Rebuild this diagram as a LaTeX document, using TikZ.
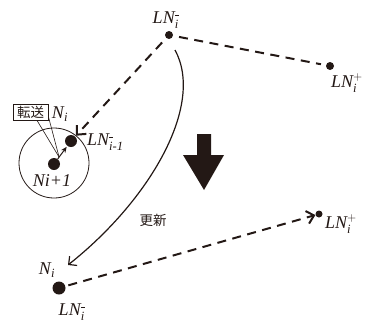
\documentclass[tikz,border=0pt]{standalone}
\usepackage{amsmath}
\usepackage{fontspec}
\setmainfont{Liberation Serif}
\newfontfamily\jpfont{Noto Sans CJK JP}
\usetikzlibrary{arrows.meta,calc}
\definecolor{ink}{HTML}{231815}
\newcommand\lnlab[2]{$\textit{LN}_{\textit{#1}}^{#2}$}
\newcommand\mns{\rule[0.5pt]{4pt}{1.6pt}}
\begin{document}
\begin{tikzpicture}[x=1pt,y=-1pt,color=ink,
  dotnode/.style={circle,fill=ink,draw=none,inner sep=0pt,minimum size=#1},
  lbl/.style={font=\fontsize{18}{20}\selectfont,inner sep=0pt,text=ink},
  jp/.style={font=\jpfont\fontsize{13.5}{14}\selectfont,text=ink},
  dashline/.style={draw=ink,line width=2pt,dash pattern=on 9pt off 6.5pt},
  dasharrow/.style={dashline,-{Straight Barb[length=7pt,width=13pt,line width=2pt]}},
]
\useasboundingbox (0,0) rectangle (366,324);
% dots
\node[dotnode=8pt] (A) at (169,35) {};
\node[dotnode=8pt] (B) at (330,66) {};
\node[dotnode=12pt] (C) at (71,141) {};
\node[dotnode=12pt] (D) at (54,164) {};
\node[dotnode=13pt] (E) at (59,288) {};
\node[dotnode=7pt] (F) at (319,214) {};
% ring
\node[circle,draw=ink,line width=0.8pt,minimum size=70pt,inner sep=0pt] (ring) at (54,163) {};
% transfer box
\node[draw=ink,line width=0.7pt,jp,minimum width=35pt,minimum height=16pt,inner sep=0pt] (tb) at (30.5,112) {転送};
% labels
\node[lbl] (lA) at (166,20) {\lnlab{i}{\mns}};
\node[lbl] (lB) at (347,83) {\lnlab{i}{+}};
\node[lbl,anchor=west] (lC) at (87,142) {\lnlab{i-1}{\mns}};
\node[lbl] (lN1) at (60,114) {$\textit{N}_{\textit{i}}$};
\node[lbl] (lD) at (52,181) {\textit{Ni+1}};
\node[lbl] (lE) at (47,270) {$\textit{N}_{\textit{i}}$};
\node[lbl] (lE2) at (72,312) {\lnlab{i}{\mns}};
\node[lbl] (lF) at (341,224) {\lnlab{i}{+}};
\node[jp] (upd) at (153,220) {更新};
% connectors
\draw[dashline,shorten <=6pt,shorten >=5pt] (A) -- (B);
\draw[dasharrow,shorten <=6pt,shorten >=1pt] (A) -- (C);
\draw[dasharrow,shorten <=3pt,shorten >=0pt] (E) -- (F);
\draw[draw=ink,line width=1pt,-{Stealth[length=6pt,width=5pt]},shorten >=1pt] (D) -- (C);
\coordinate (cv) at ($(D)!0.3!(C)$);
\draw[draw=ink,line width=0.6pt] ($(tb.south)+(6.5,0)$) -- (cv);
\draw[draw=ink,line width=0.6pt] ($(tb.south east)+(0,-4)$) -- (cv);
\coordinate (cs) at (175,50);
\coordinate (ce) at (68,265);
\draw[draw=ink,line width=1.2pt,-{Straight Barb[length=6pt,width=12pt,line width=1.2pt]}] (cs) .. controls (205,105) and (150,200) .. (ce);
% big arrow
\fill[ink] (197,134) -- (211,134) -- (211,155) -- (224,155) -- (204,190) -- (183,155) -- (197,155) -- cycle;
\end{tikzpicture}
\end{document}
